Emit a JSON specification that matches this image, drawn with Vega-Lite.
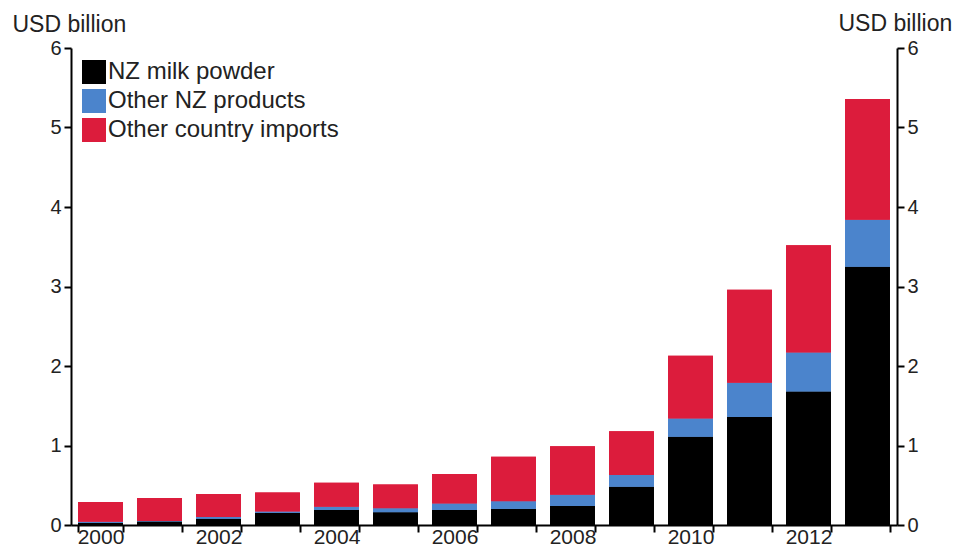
{
  "$schema": "https://vega.github.io/schema/vega-lite/v6.json",
  "autosize": "none",
  "width": 826,
  "height": 477,
  "padding": {"left": 71, "top": 48, "right": 63, "bottom": 26},
  "background": "white",
  "config": {
    "view": {"stroke": null},
    "font": "Liberation Sans",
    "axis": {
      "grid": false,
      "domainColor": "#000000",
      "domainWidth": 2,
      "tickColor": "#000000",
      "tickWidth": 2,
      "labelColor": "#222222",
      "titleColor": "#222222",
      "titleFontWeight": "normal"
    }
  },
  "data": {
    "values": [
      {"year": 2000, "series": "NZ milk powder", "value": 0.025},
      {"year": 2000, "series": "Other NZ products", "value": 0.015},
      {"year": 2000, "series": "Other country imports", "value": 0.25},
      {"year": 2001, "series": "NZ milk powder", "value": 0.045},
      {"year": 2001, "series": "Other NZ products", "value": 0.005},
      {"year": 2001, "series": "Other country imports", "value": 0.29},
      {"year": 2002, "series": "NZ milk powder", "value": 0.08},
      {"year": 2002, "series": "Other NZ products", "value": 0.02},
      {"year": 2002, "series": "Other country imports", "value": 0.29},
      {"year": 2003, "series": "NZ milk powder", "value": 0.15},
      {"year": 2003, "series": "Other NZ products", "value": 0.02},
      {"year": 2003, "series": "Other country imports", "value": 0.24},
      {"year": 2004, "series": "NZ milk powder", "value": 0.19},
      {"year": 2004, "series": "Other NZ products", "value": 0.04},
      {"year": 2004, "series": "Other country imports", "value": 0.30},
      {"year": 2005, "series": "NZ milk powder", "value": 0.16},
      {"year": 2005, "series": "Other NZ products", "value": 0.05},
      {"year": 2005, "series": "Other country imports", "value": 0.30},
      {"year": 2006, "series": "NZ milk powder", "value": 0.19},
      {"year": 2006, "series": "Other NZ products", "value": 0.08},
      {"year": 2006, "series": "Other country imports", "value": 0.37},
      {"year": 2007, "series": "NZ milk powder", "value": 0.20},
      {"year": 2007, "series": "Other NZ products", "value": 0.10},
      {"year": 2007, "series": "Other country imports", "value": 0.56},
      {"year": 2008, "series": "NZ milk powder", "value": 0.24},
      {"year": 2008, "series": "Other NZ products", "value": 0.14},
      {"year": 2008, "series": "Other country imports", "value": 0.61},
      {"year": 2009, "series": "NZ milk powder", "value": 0.48},
      {"year": 2009, "series": "Other NZ products", "value": 0.15},
      {"year": 2009, "series": "Other country imports", "value": 0.55},
      {"year": 2010, "series": "NZ milk powder", "value": 1.11},
      {"year": 2010, "series": "Other NZ products", "value": 0.23},
      {"year": 2010, "series": "Other country imports", "value": 0.79},
      {"year": 2011, "series": "NZ milk powder", "value": 1.36},
      {"year": 2011, "series": "Other NZ products", "value": 0.43},
      {"year": 2011, "series": "Other country imports", "value": 1.17},
      {"year": 2012, "series": "NZ milk powder", "value": 1.68},
      {"year": 2012, "series": "Other NZ products", "value": 0.49},
      {"year": 2012, "series": "Other country imports", "value": 1.35},
      {"year": 2013, "series": "NZ milk powder", "value": 3.25},
      {"year": 2013, "series": "Other NZ products", "value": 0.59},
      {"year": 2013, "series": "Other country imports", "value": 1.52}
    ]
  },
  "encoding": {
    "x": {
      "field": "year",
      "type": "ordinal",
      "scale": {"paddingInner": 0.24, "paddingOuter": 0.12},
      "axis": {
        "title": null,
        "labelAngle": 0,
        "tickBand": "extent",
        "tickSize": 7,
        "labelPadding": -6,
        "labelFontSize": 21,
        "labelExpr": "datum.value % 2 == 0 ? datum.label : ''"
      }
    },
    "color": {
      "field": "series",
      "type": "nominal",
      "scale": {
        "domain": ["NZ milk powder", "Other NZ products", "Other country imports"],
        "range": ["#000000", "#4B84CC", "#DC1C3C"]
      },
      "legend": {
        "orient": "none",
        "legendX": 11,
        "legendY": 12,
        "title": null,
        "symbolType": "square",
        "symbolSize": 576,
        "symbolStrokeWidth": 0,
        "labelFontSize": 24,
        "labelLimit": 0,
        "labelColor": "#222222",
        "labelOffset": 2,
        "rowPadding": 5,
        "padding": 0
      }
    },
    "order": {"field": "series", "sort": "ascending"}
  },
  "layer": [
    {
      "mark": {"type": "bar"},
      "encoding": {
        "y": {
          "field": "value",
          "type": "quantitative",
          "stack": "zero",
          "scale": {"domain": [0, 6], "nice": false},
          "axis": {
            "orient": "left",
            "values": [0, 1, 2, 3, 4, 5, 6],
            "tickSize": 7,
            "labelPadding": 3,
            "labelFontSize": 20,
            "title": "USD billion",
            "titleAngle": 0,
            "titleAlign": "left",
            "titleBaseline": "alphabetic",
            "titleX": -59,
            "titleY": -17,
            "titleFontSize": 23
          }
        }
      }
    },
    {
      "mark": {"type": "bar"},
      "encoding": {
        "y": {
          "field": "value",
          "type": "quantitative",
          "stack": "zero",
          "scale": {"domain": [0, 6], "nice": false},
          "axis": {
            "orient": "right",
            "values": [0, 1, 2, 3, 4, 5, 6],
            "tickSize": 7,
            "labelPadding": 3,
            "labelFontSize": 20,
            "title": "USD billion",
            "titleAngle": 0,
            "titleAlign": "left",
            "titleBaseline": "alphabetic",
            "titleX": -59,
            "titleY": -18,
            "titleFontSize": 23
          }
        }
      }
    }
  ],
  "resolve": {"scale": {"y": "shared"}, "axis": {"y": "independent"}}
}
